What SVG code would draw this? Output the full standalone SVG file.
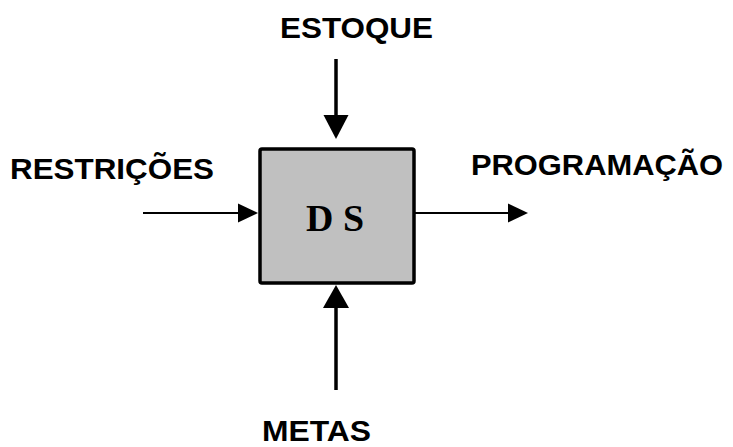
<svg xmlns="http://www.w3.org/2000/svg" width="733" height="447" viewBox="0 0 733 447">
<style>
.lbl{font-family:"Liberation Sans",Arial,sans-serif;font-weight:bold;font-size:30px;fill:#000}
.thick{stroke:#000;stroke-width:3.5;fill:none}
.thin{stroke:#000;stroke-width:1.8;fill:none}
.head{fill:#000;stroke:none}
</style>
<rect width="733" height="447" fill="#fff"/>
<g id="node-ds">
<rect x="260" y="149" width="154" height="134" rx="2" fill="#c0c0c0" stroke="#000" stroke-width="3.5"/>
<text x="306" y="231" font-family="'Liberation Serif','Times New Roman',serif" font-weight="bold" font-size="37" textLength="58" lengthAdjust="spacingAndGlyphs">D S</text>
</g>
<g id="label-estoque"><text class="lbl" x="280" y="38" textLength="153" lengthAdjust="spacingAndGlyphs">ESTOQUE</text></g>
<g id="label-restricoes"><text class="lbl" x="10" y="179" textLength="204" lengthAdjust="spacingAndGlyphs">RESTRIÇÕES</text></g>
<g id="label-programacao"><text class="lbl" x="471" y="175" textLength="252" lengthAdjust="spacingAndGlyphs">PROGRAMAÇÃO</text></g>
<g id="label-metas"><text class="lbl" x="262" y="441" textLength="109" lengthAdjust="spacingAndGlyphs">METAS</text></g>
<g id="connectors">
<line class="thick" x1="336" y1="59" x2="336" y2="116"/>
<polygon class="head" points="323.5,115 348.5,115 336,139"/>
<line class="thick" x1="336" y1="390" x2="336" y2="306"/>
<polygon class="head" points="323,308 349,308 336,285"/>
<line class="thin" x1="143" y1="213" x2="240" y2="213"/>
<polygon class="head" points="238,203.5 238,222.5 258,213"/>
<line class="thin" x1="414" y1="213" x2="510" y2="213"/>
<polygon class="head" points="508,203.5 508,222.5 528,213"/>
</g>
</svg>
